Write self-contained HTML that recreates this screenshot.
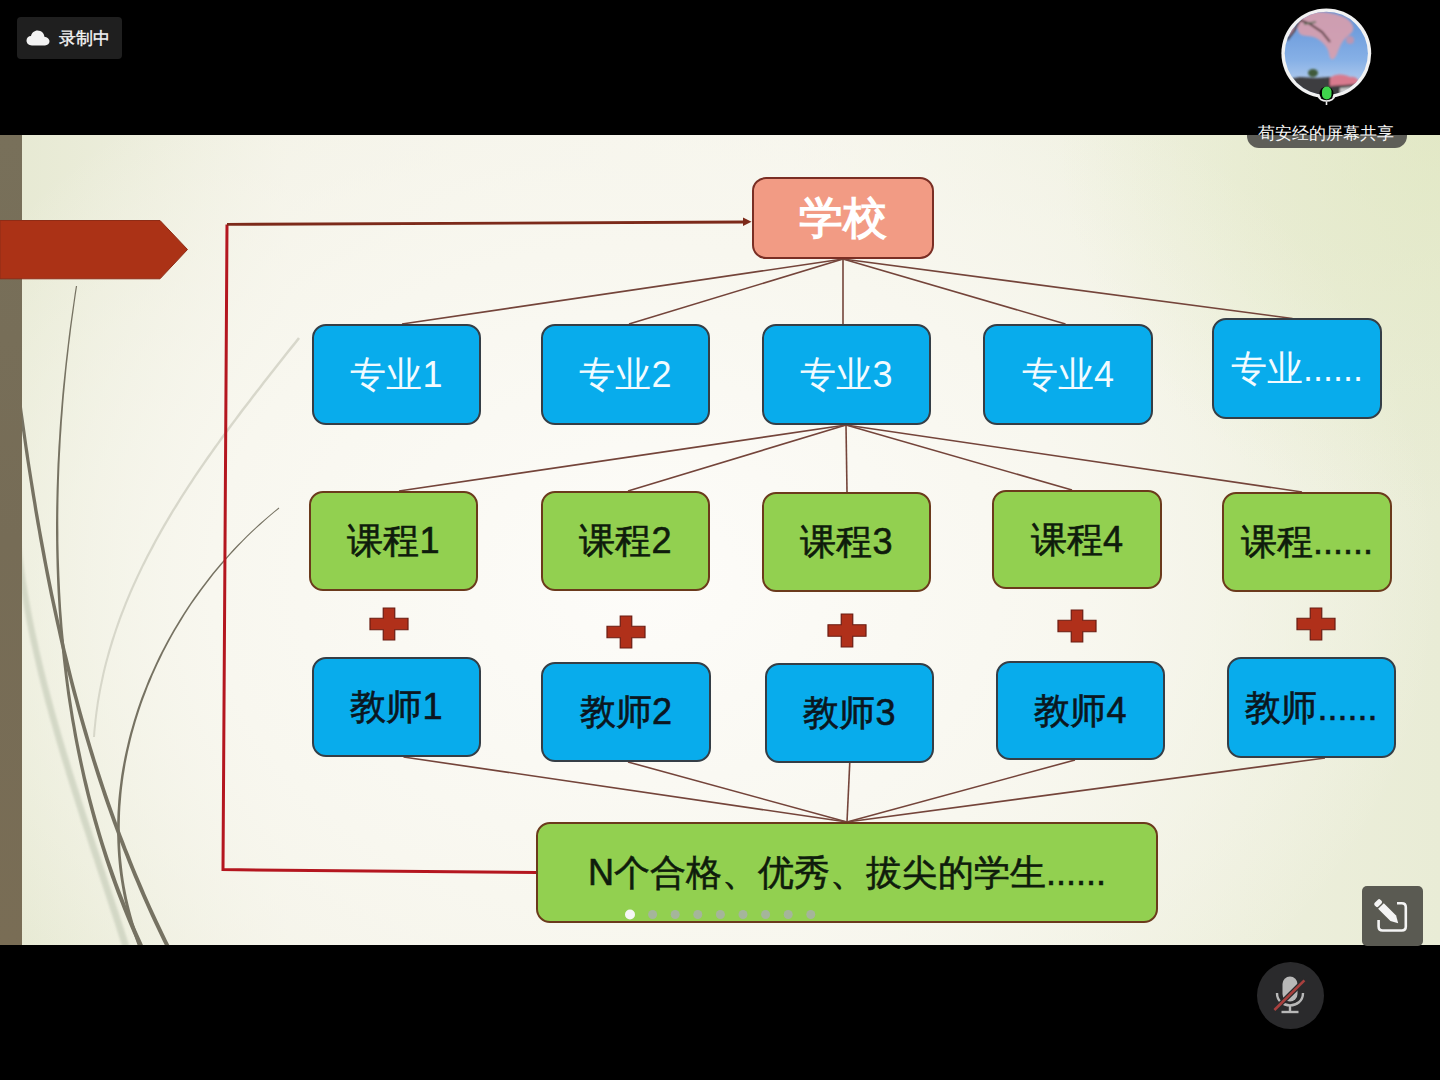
<!DOCTYPE html>
<html><head><meta charset="utf-8">
<style>
html,body{margin:0;padding:0;width:1440px;height:1080px;overflow:hidden;background:#000;}
body{position:relative;font-family:"Liberation Sans",sans-serif;}
#slide{position:absolute;left:0;top:135px;width:1440px;height:810px;overflow:hidden;
  background:radial-gradient(circle at 100% 0%, rgba(222,230,188,0.6) 0px, rgba(222,230,188,0) 380px), radial-gradient(ellipse 55% 75% at 45% 55%, #fdfcf9 0%, #f8f7ef 55%, rgba(248,247,239,0) 100%), linear-gradient(to right, #e6e9d2 0%, #f3f2e6 20%, #f6f5ec 55%, #edefdc 86%, #e9ecd6 100%);}
#strip{position:absolute;left:0;top:0;width:22px;height:810px;background:linear-gradient(#78705a,#766c56 50%,#796d55);}
svg{position:absolute;left:0;top:0;}
.box{position:absolute;box-sizing:border-box;border-radius:14px;display:flex;align-items:center;justify-content:center;white-space:nowrap;}
.blue{background:#08acec;border:2px solid #353e46;}
.green{background:#92d050;border:2px solid #6b3a1c;}
.salmon{background:#f29b84;border:2px solid #7a2e24;}
.box span{display:block;line-height:1;}
.wt{color:#f2fbff;font-size:36px;}
.dk{color:#0f1c0c;font-size:36px;-webkit-text-stroke:0.6px #0f1c0c;}
.bk{color:#0b1620;font-size:36px;-webkit-text-stroke:0.6px #0b1620;}
.sch{color:#fff;font-size:44px;font-weight:bold;}
#badge{position:absolute;left:17px;top:17px;width:105px;height:42px;border-radius:4px;background:#1f1f1f;}
#badge span{position:absolute;left:42px;top:13px;font-size:17px;color:#f6f6f6;line-height:1;-webkit-text-stroke:0.35px #f6f6f6;}
#label{position:absolute;left:1247px;top:135px;width:160px;height:12.5px;border-radius:0 0 12px 12px;background:#5e5e58;}
#lbl{position:absolute;left:1258px;top:125px;font-size:17px;color:#f5f5f5;line-height:1;white-space:nowrap;}
#pen{position:absolute;left:1362px;top:886px;width:61px;height:60px;border-radius:5px;background:#5a5a52;}
#mute{position:absolute;left:1257px;top:962px;width:67px;height:67px;border-radius:50%;background:#2a2a2c;}
</style></head><body>

<div id="slide"><div id="strip"></div></div>

<svg width="1440" height="1080" viewBox="0 0 1440 1080">
 <defs><clipPath id="sc"><rect x="22" y="135" width="1418" height="810"/></clipPath><filter id="wb" x="-50%" y="-10%" width="200%" height="120%"><feGaussianBlur stdDeviation="1.3"/></filter></defs>
 <g clip-path="url(#sc)" fill="none" stroke-linecap="round">
<path d="M298.0,337.2 L294.5,341.7 L291.0,346.1 L287.4,350.6 L283.9,355.0 L280.4,359.5 L276.8,364.0 L273.3,368.5 L269.7,373.0 L266.2,377.6 L262.6,382.1 L259.1,386.7 L255.5,391.2 L252.0,395.8 L248.5,400.4 L245.0,405.0 L241.4,409.6 L237.9,414.3 L234.5,418.9 L231.0,423.6 L227.5,428.3 L224.1,432.9 L220.7,437.6 L217.3,442.4 L213.9,447.1 L210.5,451.9 L207.1,456.6 L203.8,461.4 L200.5,466.2 L197.2,471.0 L194.0,475.8 L190.8,480.7 L187.6,485.6 L184.4,490.4 L181.3,495.3 L178.2,500.2 L175.1,505.2 L172.1,510.1 L169.1,515.1 L166.2,520.1 L163.2,525.1 L160.4,530.1 L157.5,535.2 L154.7,540.2 L152.0,545.3 L149.3,550.4 L146.6,555.5 L144.0,560.7 L141.5,565.8 L139.0,571.0 L136.5,576.2 L134.1,581.4 L131.7,586.7 L129.4,591.9 L127.2,597.2 L125.0,602.5 L122.9,607.9 L120.8,613.2 L118.8,618.6 L116.9,624.0 L115.0,629.4 L113.2,634.9 L111.4,640.3 L109.8,645.8 L108.1,651.3 L106.6,656.9 L105.1,662.4 L103.7,668.0 L102.4,673.6 L101.2,679.2 L100.0,684.9 L98.9,690.6 L97.9,696.3 L96.9,702.0 L96.1,707.8 L95.3,713.5 L94.6,719.4 L94.0,725.2 L93.4,731.0 L93.0,736.9 L95.0,737.1 L95.4,731.2 L96.0,725.4 L96.6,719.6 L97.3,713.8 L98.1,708.0 L98.9,702.3 L99.9,696.6 L100.9,690.9 L102.0,685.3 L103.2,679.7 L104.4,674.1 L105.7,668.5 L107.1,662.9 L108.6,657.4 L110.2,651.9 L111.8,646.4 L113.5,640.9 L115.2,635.5 L117.0,630.1 L118.9,624.7 L120.8,619.3 L122.8,614.0 L124.9,608.7 L127.0,603.3 L129.2,598.1 L131.4,592.8 L133.7,587.6 L136.1,582.3 L138.5,577.1 L140.9,572.0 L143.4,566.8 L146.0,561.7 L148.6,556.5 L151.3,551.4 L154.0,546.4 L156.7,541.3 L159.5,536.2 L162.3,531.2 L165.2,526.2 L168.1,521.2 L171.1,516.3 L174.0,511.3 L177.1,506.4 L180.1,501.5 L183.2,496.6 L186.3,491.7 L189.5,486.8 L192.7,482.0 L195.9,477.1 L199.2,472.3 L202.4,467.5 L205.7,462.7 L209.1,458.0 L212.4,453.2 L215.8,448.5 L219.2,443.7 L222.6,439.0 L226.0,434.3 L229.4,429.7 L232.9,425.0 L236.4,420.3 L239.9,415.7 L243.4,411.1 L246.9,406.5 L250.4,401.9 L253.9,397.3 L257.4,392.7 L261.0,388.2 L264.5,383.6 L268.1,379.1 L271.6,374.6 L275.2,370.0 L278.7,365.5 L282.3,361.1 L285.8,356.6 L289.4,352.1 L292.9,347.7 L296.5,343.2 L300.0,338.8Z" fill="#cfd0c2" opacity="0.8"/>
<path d="M11.0,500.2 L11.4,506.2 L11.8,512.1 L12.2,518.1 L12.7,524.0 L13.2,530.0 L13.8,535.9 L14.4,541.8 L15.1,547.7 L15.8,553.6 L16.5,559.4 L17.3,565.3 L18.1,571.1 L18.9,577.0 L19.8,582.8 L20.8,588.6 L21.7,594.4 L22.7,600.2 L23.7,605.9 L24.8,611.7 L25.9,617.5 L27.0,623.2 L28.2,628.9 L29.3,634.6 L30.5,640.4 L31.8,646.1 L33.1,651.8 L34.4,657.4 L35.7,663.1 L37.0,668.8 L38.4,674.5 L39.8,680.1 L41.2,685.8 L42.7,691.4 L44.1,697.0 L45.6,702.7 L47.2,708.3 L48.7,713.9 L50.2,719.5 L51.8,725.1 L53.4,730.7 L55.0,736.3 L56.6,741.9 L58.3,747.5 L59.9,753.1 L61.6,758.7 L63.3,764.2 L65.0,769.8 L66.7,775.4 L68.5,781.0 L70.2,786.5 L71.9,792.1 L73.7,797.6 L75.5,803.2 L77.3,808.8 L79.0,814.3 L80.8,819.9 L82.6,825.4 L84.5,831.0 L86.3,836.5 L88.1,842.1 L89.9,847.7 L91.7,853.2 L93.6,858.8 L95.4,864.3 L97.2,869.9 L99.1,875.5 L100.9,881.0 L102.7,886.6 L104.6,892.2 L106.4,897.7 L108.2,903.3 L110.0,908.9 L111.9,914.5 L113.7,920.1 L115.5,925.6 L117.3,931.2 L119.1,936.8 L120.9,942.4 L122.7,948.1 L129.3,945.9 L127.5,940.3 L125.7,934.7 L123.9,929.1 L122.1,923.5 L120.3,917.9 L118.5,912.3 L116.6,906.7 L114.8,901.2 L112.9,895.6 L111.1,890.0 L109.2,884.4 L107.4,878.9 L105.6,873.3 L103.7,867.7 L101.9,862.2 L100.0,856.6 L98.2,851.1 L96.3,845.5 L94.5,840.0 L92.7,834.4 L90.9,828.9 L89.0,823.3 L87.2,817.8 L85.4,812.3 L83.6,806.7 L81.8,801.2 L80.1,795.6 L78.3,790.1 L76.5,784.5 L74.8,779.0 L73.0,773.4 L71.3,767.9 L69.6,762.3 L67.9,756.8 L66.2,751.2 L64.6,745.6 L62.9,740.1 L61.3,734.5 L59.7,728.9 L58.1,723.4 L56.5,717.8 L54.9,712.2 L53.4,706.6 L51.9,701.0 L50.4,695.4 L48.9,689.8 L47.4,684.2 L46.0,678.6 L44.6,672.9 L43.2,667.3 L41.9,661.7 L40.5,656.0 L39.2,650.4 L38.0,644.7 L36.7,639.0 L35.5,633.4 L34.3,627.7 L33.1,622.0 L32.0,616.3 L30.9,610.5 L29.9,604.8 L28.8,599.1 L27.8,593.3 L26.9,587.6 L25.9,581.8 L25.0,576.1 L24.2,570.3 L23.4,564.5 L22.6,558.7 L21.8,552.8 L21.1,547.0 L20.5,541.1 L19.9,535.3 L19.3,529.4 L18.7,523.5 L18.2,517.6 L17.8,511.7 L17.4,505.8 L17.0,499.8Z" fill="#c8cebb" opacity="0.7" filter="url(#wb)"/>
<path d="M75.9,285.9 L74.6,294.3 L73.4,302.7 L72.2,311.1 L71.0,319.5 L69.8,328.0 L68.7,336.4 L67.7,344.9 L66.7,353.3 L65.7,361.8 L64.8,370.3 L63.9,378.8 L63.0,387.3 L62.2,395.8 L61.5,404.3 L60.8,412.9 L60.1,421.4 L59.5,429.9 L59.0,438.5 L58.4,447.0 L58.0,455.6 L57.5,464.1 L57.2,472.7 L56.9,481.3 L56.6,489.8 L56.4,498.4 L56.2,506.9 L56.1,515.5 L56.0,524.1 L56.0,532.6 L56.1,541.2 L56.2,549.7 L56.4,558.3 L56.6,566.9 L56.9,575.4 L57.2,583.9 L57.6,592.5 L58.1,601.0 L58.6,609.6 L59.2,618.1 L59.8,626.6 L60.5,635.1 L61.3,643.6 L62.1,652.1 L63.0,660.6 L64.0,669.1 L65.0,677.5 L66.1,686.0 L67.2,694.4 L68.5,702.9 L69.8,711.3 L71.1,719.7 L72.6,728.1 L74.0,736.5 L75.6,744.8 L77.3,753.2 L79.0,761.5 L80.8,769.8 L82.6,778.2 L84.5,786.4 L86.5,794.7 L88.6,803.0 L90.8,811.2 L93.0,819.4 L95.3,827.6 L97.7,835.8 L100.2,844.0 L102.7,852.1 L105.3,860.2 L108.0,868.3 L110.8,876.4 L113.7,884.4 L116.6,892.4 L119.7,900.4 L122.8,908.4 L126.0,916.4 L129.2,924.3 L132.6,932.2 L136.1,940.0 L139.6,947.9 L143.4,946.1 L139.9,938.3 L136.4,930.5 L133.0,922.7 L129.7,914.8 L126.5,906.9 L123.4,899.0 L120.3,891.0 L117.3,883.1 L114.5,875.1 L111.7,867.1 L108.9,859.0 L106.3,850.9 L103.7,842.9 L101.2,834.7 L98.8,826.6 L96.5,818.5 L94.2,810.3 L92.0,802.1 L89.9,793.9 L87.9,785.6 L85.9,777.4 L84.0,769.1 L82.2,760.8 L80.5,752.5 L78.8,744.2 L77.2,735.9 L75.7,727.5 L74.2,719.2 L72.8,710.8 L71.5,702.4 L70.2,694.0 L69.0,685.6 L67.9,677.2 L66.9,668.7 L65.9,660.3 L64.9,651.8 L64.1,643.3 L63.3,634.9 L62.5,626.4 L61.9,617.9 L61.2,609.4 L60.7,600.9 L60.2,592.4 L59.8,583.8 L59.4,575.3 L59.1,566.8 L58.8,558.2 L58.6,549.7 L58.4,541.2 L58.4,532.6 L58.3,524.1 L58.3,515.5 L58.4,507.0 L58.5,498.4 L58.7,489.9 L58.9,481.3 L59.2,472.8 L59.5,464.2 L59.9,455.7 L60.4,447.1 L60.8,438.6 L61.4,430.1 L61.9,421.5 L62.6,413.0 L63.2,404.5 L63.9,396.0 L64.7,387.5 L65.5,379.0 L66.3,370.5 L67.2,362.0 L68.2,353.5 L69.1,345.1 L70.2,336.6 L71.2,328.1 L72.3,319.7 L73.5,311.3 L74.6,302.9 L75.8,294.5 L77.1,286.1Z" fill="#767262"/>
<path d="M18.4,404.2 L19.4,411.3 L20.3,418.4 L21.3,425.5 L22.3,432.5 L23.3,439.6 L24.3,446.7 L25.3,453.8 L26.4,460.9 L27.5,468.0 L28.6,475.0 L29.7,482.1 L30.8,489.2 L31.9,496.3 L33.1,503.3 L34.2,510.4 L35.4,517.5 L36.6,524.5 L37.9,531.6 L39.1,538.7 L40.4,545.7 L41.7,552.8 L43.0,559.8 L44.4,566.9 L45.7,573.9 L47.1,580.9 L48.5,588.0 L49.9,595.0 L51.4,602.0 L52.9,609.0 L54.4,616.0 L55.9,623.0 L57.5,630.0 L59.0,637.0 L60.6,644.0 L62.3,651.0 L63.9,657.9 L65.6,664.9 L67.3,671.9 L69.1,678.8 L70.8,685.8 L72.6,692.7 L74.5,699.6 L76.3,706.5 L78.2,713.4 L80.1,720.3 L82.1,727.2 L84.0,734.1 L86.1,741.0 L88.1,747.8 L90.2,754.7 L92.3,761.5 L94.4,768.3 L96.6,775.2 L98.8,782.0 L101.1,788.8 L103.3,795.5 L105.6,802.3 L108.0,809.1 L110.4,815.8 L112.8,822.6 L115.3,829.3 L117.8,836.0 L120.3,842.7 L122.9,849.4 L125.5,856.0 L128.1,862.7 L130.8,869.3 L133.5,876.0 L136.3,882.6 L139.1,889.2 L141.9,895.8 L144.8,902.3 L147.8,908.9 L150.7,915.4 L153.7,922.0 L156.8,928.5 L159.9,935.0 L163.0,941.4 L166.2,947.9 L169.8,946.1 L166.6,939.7 L163.5,933.2 L160.4,926.8 L157.3,920.3 L154.3,913.8 L151.3,907.3 L148.4,900.8 L145.5,894.2 L142.7,887.6 L139.9,881.1 L137.1,874.5 L134.4,867.9 L131.7,861.3 L129.1,854.6 L126.4,848.0 L123.9,841.3 L121.3,834.7 L118.8,828.0 L116.4,821.3 L114.0,814.6 L111.6,807.8 L109.2,801.1 L106.9,794.3 L104.6,787.6 L102.4,780.8 L100.2,774.0 L98.0,767.2 L95.8,760.4 L93.7,753.6 L91.6,746.8 L89.6,739.9 L87.6,733.1 L85.6,726.2 L83.6,719.3 L81.7,712.5 L79.8,705.6 L78.0,698.7 L76.1,691.8 L74.3,684.9 L72.5,677.9 L70.8,671.0 L69.1,664.1 L67.4,657.1 L65.7,650.2 L64.1,643.2 L62.5,636.2 L60.9,629.3 L59.3,622.3 L57.8,615.3 L56.3,608.3 L54.8,601.3 L53.3,594.3 L51.9,587.3 L50.5,580.3 L49.1,573.2 L47.7,566.2 L46.4,559.2 L45.1,552.1 L43.8,545.1 L42.5,538.1 L41.2,531.0 L40.0,524.0 L38.8,516.9 L37.5,509.8 L36.4,502.8 L35.2,495.7 L34.1,488.7 L32.9,481.6 L31.8,474.5 L30.7,467.5 L29.6,460.4 L28.6,453.3 L27.5,446.2 L26.5,439.2 L25.5,432.1 L24.5,425.0 L23.5,417.9 L22.5,410.9 L21.6,403.8Z" fill="#767262"/>
<path d="M278.7,507.6 L273.9,511.5 L269.2,515.4 L264.5,519.5 L259.8,523.6 L255.3,527.7 L250.7,532.0 L246.3,536.3 L241.9,540.7 L237.5,545.1 L233.2,549.6 L229.0,554.2 L224.8,558.9 L220.7,563.6 L216.7,568.3 L212.7,573.1 L208.8,578.0 L205.0,583.0 L201.2,588.0 L197.5,593.0 L193.9,598.1 L190.3,603.3 L186.8,608.5 L183.4,613.7 L180.1,619.0 L176.8,624.4 L173.6,629.7 L170.5,635.2 L167.4,640.7 L164.5,646.2 L161.6,651.7 L158.8,657.3 L156.1,663.0 L153.5,668.7 L150.9,674.4 L148.4,680.1 L146.1,685.9 L143.8,691.7 L141.5,697.5 L139.4,703.4 L137.4,709.3 L135.5,715.2 L133.6,721.2 L131.9,727.2 L130.2,733.1 L128.6,739.2 L127.2,745.2 L125.8,751.3 L124.5,757.3 L123.3,763.4 L122.2,769.5 L121.2,775.6 L120.4,781.8 L119.6,787.9 L118.9,794.1 L118.3,800.2 L117.9,806.4 L117.5,812.6 L117.3,818.8 L117.1,825.0 L117.1,831.2 L117.2,837.3 L117.4,843.5 L117.7,849.7 L118.1,855.9 L118.6,862.1 L119.2,868.3 L120.0,874.5 L120.9,880.6 L121.9,886.8 L123.0,892.9 L124.2,899.1 L125.6,905.2 L127.0,911.3 L128.6,917.4 L130.4,923.5 L132.2,929.5 L134.2,935.6 L136.3,941.6 L138.5,947.6 L141.5,946.4 L139.3,940.5 L137.2,934.5 L135.2,928.6 L133.3,922.6 L131.6,916.6 L130.0,910.5 L128.5,904.5 L127.1,898.4 L125.9,892.4 L124.7,886.3 L123.7,880.2 L122.8,874.1 L122.1,868.0 L121.4,861.8 L120.8,855.7 L120.4,849.6 L120.1,843.4 L119.9,837.3 L119.8,831.1 L119.8,825.0 L119.9,818.9 L120.1,812.7 L120.4,806.6 L120.9,800.5 L121.4,794.3 L122.0,788.2 L122.8,782.1 L123.6,776.0 L124.6,769.9 L125.6,763.8 L126.8,757.8 L128.0,751.7 L129.4,745.7 L130.8,739.7 L132.3,733.7 L134.0,727.7 L135.7,721.8 L137.5,715.9 L139.4,710.0 L141.4,704.1 L143.5,698.3 L145.7,692.4 L147.9,686.6 L150.3,680.9 L152.7,675.1 L155.2,669.5 L157.8,663.8 L160.5,658.2 L163.2,652.6 L166.1,647.0 L169.0,641.5 L172.0,636.0 L175.1,630.6 L178.3,625.2 L181.5,619.9 L184.8,614.6 L188.2,609.3 L191.6,604.1 L195.2,599.0 L198.8,593.9 L202.4,588.9 L206.2,583.9 L210.0,578.9 L213.8,574.0 L217.8,569.2 L221.8,564.4 L225.8,559.7 L230.0,555.1 L234.2,550.5 L238.4,546.0 L242.7,541.5 L247.1,537.1 L251.5,532.8 L256.0,528.6 L260.6,524.4 L265.2,520.3 L269.8,516.2 L274.5,512.3 L279.3,508.4Z" fill="#767262"/>
 </g>
 <polygon points="0,220.5 160,220.5 187.5,249.5 160,278.8 0,278.8" fill="#ab3216" stroke="#8e2c16" stroke-width="1"/>
 <g stroke="#74443a" stroke-width="1.6">
<line x1="843" y1="259" x2="402" y2="324"/>
<line x1="843" y1="259" x2="629" y2="324"/>
<line x1="843" y1="259" x2="843" y2="324"/>
<line x1="843" y1="259" x2="1065.5" y2="324"/>
<line x1="843" y1="259" x2="1292.5" y2="318.5"/>
<line x1="846" y1="425" x2="399" y2="491"/>
<line x1="846" y1="425" x2="628" y2="491"/>
<line x1="846" y1="425" x2="847" y2="492"/>
<line x1="846" y1="425" x2="1072" y2="490"/>
<line x1="846" y1="425" x2="1302" y2="492"/>
<line x1="403.5" y1="757" x2="847" y2="822"/>
<line x1="628" y1="762" x2="847" y2="822"/>
<line x1="849.75" y1="763" x2="847" y2="822"/>
<line x1="1075" y1="760" x2="847" y2="822"/>
<line x1="1325" y1="758" x2="847" y2="822"/>
 </g>
 <!-- red connector -->
 <polyline points="537,872.5 223,869.6 227,224.4" fill="none" stroke="#b4161f" stroke-width="3"/>
 <line x1="227" y1="224.4" x2="744" y2="222" stroke="#7c2a1a" stroke-width="2.8"/>
 <polygon points="743,217.5 751.5,221.8 743,226" fill="#7c2a1a"/>
 <g fill="#b0301a" stroke="#6a1c12" stroke-width="1.2">
<path d="M383.25,608 H394.75 V618.25 H408 V629.75 H394.75 V640 H383.25 V629.75 H370 V618.25 H383.25 Z"/>
<path d="M620.25,616 H631.75 V626.25 H645 V637.75 H631.75 V648 H620.25 V637.75 H607 V626.25 H620.25 Z"/>
<path d="M841.25,614 H852.75 V624.75 H866 V636.25 H852.75 V647 H841.25 V636.25 H828 V624.75 H841.25 Z"/>
<path d="M1071.25,610 H1082.75 V620.25 H1096 V631.75 H1082.75 V642 H1071.25 V631.75 H1058 V620.25 H1071.25 Z"/>
<path d="M1310.25,608 H1321.75 V618.25 H1335 V629.75 H1321.75 V640 H1310.25 V629.75 H1297 V618.25 H1310.25 Z"/>
 </g>
</svg>

<div class="box salmon" style="left:752px;top:177px;width:182px;height:82px"><span class="sch">学校</span></div>
<div class="box blue" style="left:312px;top:324px;width:169px;height:101px"><span class="wt">专业1</span></div>
<div class="box blue" style="left:541px;top:324px;width:169px;height:101px"><span class="wt">专业2</span></div>
<div class="box blue" style="left:762px;top:324px;width:169px;height:101px"><span class="wt">专业3</span></div>
<div class="box blue" style="left:983px;top:324px;width:170px;height:101px"><span class="wt">专业4</span></div>
<div class="box blue" style="left:1212px;top:318px;width:170px;height:101px"><span class="wt">专业......</span></div>
<div class="box green" style="left:309px;top:491px;width:169px;height:100px"><span class="dk">课程1</span></div>
<div class="box green" style="left:541px;top:491px;width:169px;height:100px"><span class="dk">课程2</span></div>
<div class="box green" style="left:762px;top:492px;width:169px;height:100px"><span class="dk">课程3</span></div>
<div class="box green" style="left:992px;top:490px;width:170px;height:99px"><span class="dk">课程4</span></div>
<div class="box green" style="left:1222px;top:492px;width:170px;height:100px"><span class="dk">课程......</span></div>
<div class="box blue" style="left:312px;top:657px;width:169px;height:100px"><span class="bk">教师1</span></div>
<div class="box blue" style="left:541px;top:662px;width:170px;height:100px"><span class="bk">教师2</span></div>
<div class="box blue" style="left:765px;top:663px;width:169px;height:100px"><span class="bk">教师3</span></div>
<div class="box blue" style="left:996px;top:661px;width:169px;height:99px"><span class="bk">教师4</span></div>
<div class="box blue" style="left:1227px;top:657px;width:169px;height:101px"><span class="bk">教师......</span></div>
<div class="box green" style="left:536px;top:822px;width:622px;height:101px"><span class="dk">N个合格、优秀、拔尖的学生......</span></div>

<!-- dots -->
<svg width="1440" height="1080" viewBox="0 0 1440 1080" style="pointer-events:none">
 <circle cx="630" cy="914.5" r="5" fill="#f6f6f6"/>
 <circle cx="652.6" cy="914.5" r="4.5" fill="#a8b0a8" opacity="0.85"/><circle cx="675.2" cy="914.5" r="4.5" fill="#a8b0a8" opacity="0.85"/><circle cx="697.8" cy="914.5" r="4.5" fill="#a8b0a8" opacity="0.85"/><circle cx="720.4" cy="914.5" r="4.5" fill="#a8b0a8" opacity="0.85"/><circle cx="743.0" cy="914.5" r="4.5" fill="#a8b0a8" opacity="0.85"/><circle cx="765.6" cy="914.5" r="4.5" fill="#a8b0a8" opacity="0.85"/><circle cx="788.2" cy="914.5" r="4.5" fill="#a8b0a8" opacity="0.85"/><circle cx="810.8" cy="914.5" r="4.5" fill="#a8b0a8" opacity="0.85"/>
</svg>

<div id="badge"><svg width="24" height="16" style="left:9px;top:13px" viewBox="0 0 24 16"><path d="M6,15.5 C2.5,15.5 0.5,13.2 0.5,10.6 C0.5,8 2.5,6 5,6 C5.7,2.8 8.3,0.5 11.6,0.5 C15.3,0.5 18.2,3.3 18.4,6.8 C21.2,7 23.5,9.1 23.5,11.3 C23.5,13.6 21.5,15.5 19,15.5 Z" fill="#f2f2f2"/></svg><span>录制中</span></div>

<div id="label"></div><div id="lbl">荀安经的屏幕共享</div>

<!-- avatar -->
<svg width="1440" height="1080" viewBox="0 0 1440 1080" style="pointer-events:none">
 <defs>
  <clipPath id="av"><circle cx="1326.3" cy="53.3" r="41.6"/></clipPath>
  <linearGradient id="sky" x1="0" y1="0" x2="0" y2="1">
   <stop offset="0" stop-color="#5f90d6"/><stop offset="0.55" stop-color="#86b0e6"/><stop offset="0.85" stop-color="#b9d0ef"/><stop offset="1" stop-color="#c9d8ee"/>
  </linearGradient>
  <filter id="bl" x="-20%" y="-20%" width="140%" height="140%"><feGaussianBlur stdDeviation="1.2"/></filter>
 </defs>
 <circle cx="1326.3" cy="53.3" r="44.9" fill="#f2f2f2"/>
 <g clip-path="url(#av)">
  <rect x="1280" y="8" width="94" height="94" fill="url(#sky)"/>
  <g filter="url(#bl)">
   <path d="M1302,13 C1316,10 1334,12 1346,18 C1354,23 1356,31 1349,35 C1343,39 1340,46 1337,54 C1334,61 1330,61 1329,54 C1328,47 1323,42 1316,38 C1309,35 1304,37 1300,34 C1296,30 1296,18 1302,13 Z" fill="#dc9eac" opacity="0.88"/>
   <circle cx="1290" cy="30" r="5" fill="#cf8e9a" opacity="0.8"/>
   <circle cx="1350" cy="40" r="4" fill="#d9909e" opacity="0.7"/>
   <path d="M1287,40 L1294,31 L1300,20 L1310,24 L1322,32 L1330,42" stroke="#3a2a2c" stroke-width="1.8" fill="none"/>
   <path d="M1304,24 L1316,22" stroke="#4a6a50" stroke-width="1.5"/>
   <path d="M1289,79 L1300,77 L1316,78 L1330,77 L1356,80 L1370,84 L1370,100 L1285,100 Z" fill="#3d3d40"/>
   <path d="M1330,78 C1335,73 1345,74 1350,77 C1355,76 1360,79 1358,84 L1330,86 Z" fill="#d87a8e"/>
   <path d="M1340,88 L1362,86 L1360,94 L1340,94 Z" fill="#c8c8c8"/>
   <ellipse cx="1313" cy="73" rx="5" ry="4" fill="#3f5a3a"/>
  </g>
 </g>
 <circle cx="1326.5" cy="93.5" r="7" fill="#000"/>
 <rect x="1322" y="86.5" width="9.5" height="13" rx="4.75" fill="#3fd44c"/>
 <path d="M1318.3,95 C1318.3,103 1334.7,103 1334.7,95" stroke="#eeeeee" stroke-width="1.6" fill="none"/>
 <line x1="1326.5" y1="101.5" x2="1326.5" y2="105" stroke="#eeeeee" stroke-width="1.6"/>
</svg>

<div id="pen"><svg width="61" height="60" viewBox="0 0 61 60" style="left:0;top:0">
 <path d="M35,17.3 H39.8 Q43.8,17.3 43.8,21.3 V40.5 Q43.8,44.5 39.8,44.5 H20.6 Q16.6,44.5 16.6,40.5 V34" stroke="#f4f4f4" stroke-width="2.6" fill="none"/>
 <g transform="translate(15,16) rotate(45)">
  <rect x="-1" y="-4" width="5.2" height="8" rx="1.8" fill="#f4f4f4"/>
  <path d="M5.6,-4 H23 L30,0 L23,4 H5.6 Z" fill="#f4f4f4"/>
 </g>
</svg></div>

<div id="mute"><svg width="67" height="67" viewBox="0 0 67 67" style="left:0;top:0">
 <rect x="25.5" y="14.5" width="15" height="25" rx="7.5" fill="#b8b8b8"/>
 <path d="M20,31 C20,47.5 46,47.5 46,31" stroke="#b8b8b8" stroke-width="2.4" fill="none"/>
 <line x1="33" y1="43" x2="33" y2="50" stroke="#b8b8b8" stroke-width="2.4"/>
 <line x1="24.5" y1="50" x2="41.5" y2="50" stroke="#b8b8b8" stroke-width="2.4"/>
 <line x1="17.4" y1="48" x2="47.4" y2="18.4" stroke="#2a2a2c" stroke-width="5"/>
 <line x1="17.4" y1="48" x2="47.4" y2="18.4" stroke="#a8403e" stroke-width="2.6"/>
</svg></div>

</body></html>
